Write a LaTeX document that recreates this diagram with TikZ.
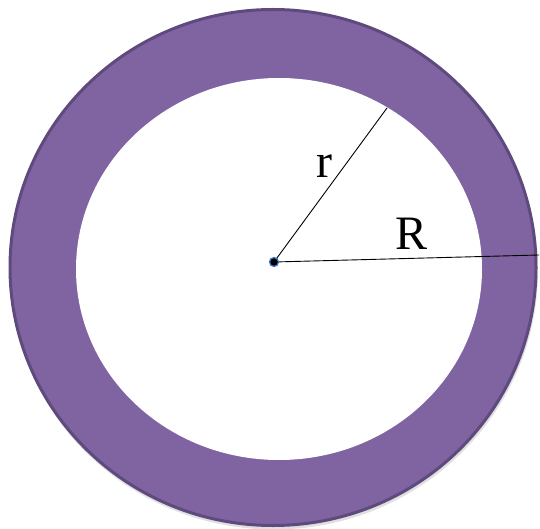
\documentclass[tikz,border=0pt]{standalone}
\usepackage{fontspec}
\setmainfont{Liberation Serif}
\definecolor{ringfill}{HTML}{8064A2}
\definecolor{ringedge}{HTML}{5F4A7E}
\definecolor{dotblue}{HTML}{3A78C8}
\tikzset{
  radius line/.style={draw=black, line width=0.9pt},
  lbl/.style={font=\fontsize{48}{50}\selectfont, inner sep=0pt}
}
\begin{document}
\begin{tikzpicture}[x=1pt,y=1pt]
\useasboundingbox (0,0) rectangle (540,528);
% shadow
\fill[black!12] (274,257.5) ellipse [x radius=264, y radius=259];
% outer disk
\fill[ringfill, draw=ringedge, line width=3pt] (273,260.5) ellipse [x radius=263, y radius=258];
% inner hole
\fill[white] (279,259) ellipse [x radius=203, y radius=191];
% center and end points
\coordinate (rend) at (387,420);
\coordinate (Rend) at (539,273);
\coordinate (cc) at (274,266);
\draw[radius line] (cc) -- (rend);
\draw[radius line] (cc) -- (Rend);
\node[circle, fill=black, draw=dotblue, line width=1.2pt, inner sep=0pt, minimum size=9pt] (c) at (cc) {};
\node[lbl] (rl) at (324,362) {r};
\node[lbl] (Rl) at (411.5,294) {R};
\end{tikzpicture}
\end{document}
